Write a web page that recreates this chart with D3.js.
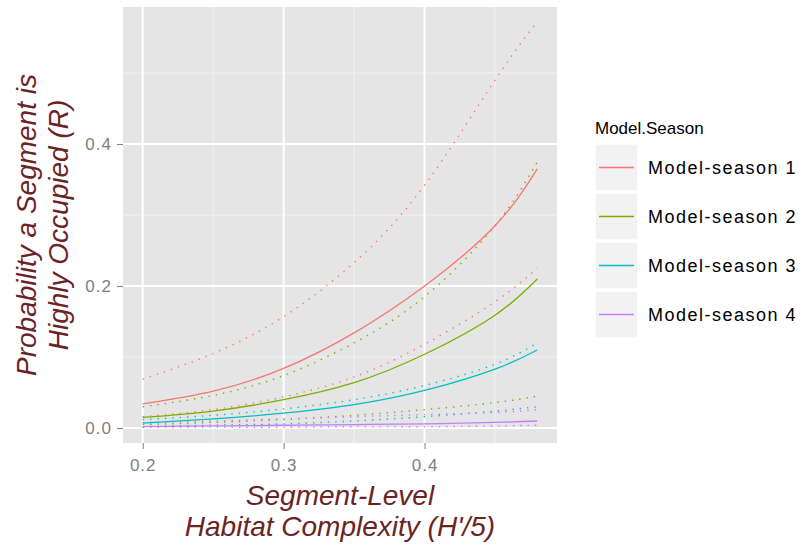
<!DOCTYPE html>
<html>
<head>
<meta charset="utf-8">
<script src="https://cdn.jsdelivr.net/npm/d3@7"></script>
<style>
	body { margin: 0; background: #fff; }
	svg text { font-family: "Liberation Sans", Arial, sans-serif; }
</style>
</head>
<body>
<svg id="chart" width="809" height="554"></svg>
<script>
// values
var xVals = [0.20, 0.25, 0.30, 0.35, 0.40, 0.45, 0.48];

var fit1 = [0.034, 0.052, 0.084, 0.134, 0.200, 0.285, 0.365];
var up1 = [0.069, 0.105, 0.157, 0.233, 0.342, 0.490, 0.572];
var lo1 = [0.016, 0.026, 0.044, 0.072, 0.118, 0.178, 0.225];

var fit2 = [0.015, 0.024, 0.040, 0.064, 0.104, 0.159, 0.210];
var up2 = [0.030, 0.046, 0.074, 0.120, 0.185, 0.285, 0.375];
var lo2 = [0.005, 0.008, 0.012, 0.018, 0.026, 0.036, 0.045];

var fit3 = [0.007, 0.013, 0.021, 0.033, 0.053, 0.083, 0.110];
var up3 = [0.012, 0.018, 0.027, 0.040, 0.060, 0.090, 0.120];
var lo3 = [0.002, 0.004, 0.006, 0.010, 0.016, 0.024, 0.030];

var fit4 = [0.002, 0.003, 0.004, 0.005, 0.006, 0.008, 0.010];
var up4 = [0.008, 0.010, 0.013, 0.016, 0.019, 0.022, 0.026];
var lo4 = [0.001, 0.001, 0.001, 0.002, 0.002, 0.003, 0.004];

var seasons = ["Model-season 1", "Model-season 2", "Model-season 3", "Model-season 4"];
var colors = ["#F8766D", "#7CAE00", "#00BFC4", "#C77CFF"];

var xTicks = [0.2, 0.3, 0.4],
	xMinor = [0.25, 0.35, 0.45],
	yTicks = [0.0, 0.2, 0.4],
	yMinor = [0.1, 0.3, 0.5];

var fits = [fit1, fit2, fit3, fit4],
	uppers = [up1, up2, up3, up4],
	lowers = [lo1, lo2, lo3, lo4];

var svg = d3.select("#chart"),
	panel = {left: 123, right: 557, top: 7, bottom: 443};

var x = d3.scaleLinear()
	.domain([0.186, 0.494])
	.range([panel.left, panel.right]);

var y = d3.scaleLinear()
	.domain([-0.021, 0.593])
	.range([panel.bottom, panel.top]);

/* panel + grid */

svg.append("rect")
	.attr("x", panel.left).attr("y", panel.top)
	.attr("width", panel.right - panel.left)
	.attr("height", panel.bottom - panel.top)
	.attr("fill", "#E5E5E5");

var grid = svg.append("g").attr("class", "grid");

grid.selectAll(".vminor").data(xMinor).enter().append("line")
	.attr("x1", d => x(d)).attr("x2", d => x(d))
	.attr("y1", panel.top).attr("y2", panel.bottom)
	.attr("stroke", "#F2F2F2").attr("stroke-width", 1);

grid.selectAll(".hminor").data(yMinor).enter().append("line")
	.attr("y1", d => y(d)).attr("y2", d => y(d))
	.attr("x1", panel.left).attr("x2", panel.right)
	.attr("stroke", "#F2F2F2").attr("stroke-width", 1);

grid.selectAll(".vmajor").data(xTicks).enter().append("line")
	.attr("x1", d => x(d)).attr("x2", d => x(d))
	.attr("y1", panel.top).attr("y2", panel.bottom)
	.attr("stroke", "#fff").attr("stroke-width", 2);

grid.selectAll(".hmajor").data(yTicks).enter().append("line")
	.attr("y1", d => y(d)).attr("y2", d => y(d))
	.attr("x1", panel.left).attr("x2", panel.right)
	.attr("stroke", "#fff").attr("stroke-width", 2);

/* axes */

var xAxis = svg.append("g")
	.attr("transform", "translate(0," + panel.bottom + ")")
	.call(d3.axisBottom(x).tickValues(xTicks).tickFormat(d3.format(".1f")).tickSize(6).tickPadding(10));

var yAxis = svg.append("g")
	.attr("transform", "translate(" + panel.left + ",0)")
	.call(d3.axisLeft(y).tickValues(yTicks).tickFormat(d3.format(".1f")).tickSize(6).tickPadding(5));

[xAxis, yAxis].forEach(function(a) {
	a.select(".domain").remove();
	a.selectAll(".tick line").attr("stroke", "#7F7F7F");
	a.selectAll(".tick text")
		.attr("fill", "#808080")
		.style("font-size", "17px")
		.style("letter-spacing", "1px");
});

/* lines */

var line = d3.line()
	.x(function(d, i) { return x(xVals[i]); })
	.y(function(d) { return y(d); })
	.curve(d3.curveNatural);

var plot = svg.append("g");

[0, 1, 2, 3].forEach(function(k) {
	[uppers[k], lowers[k]].forEach(function(s) {
		plot.append("path")
			.datum(s)
			.attr("d", line)
			.attr("fill", "none")
			.attr("stroke", colors[k])
			.attr("stroke-width", 1.4)
			.attr("stroke-dasharray", "1.4,6");
	});
});

[0, 1, 2, 3].forEach(function(k) {
	plot.append("path")
		.datum(fits[k])
		.attr("d", line)
		.attr("fill", "none")
		.attr("stroke", colors[k])
		.attr("stroke-width", 1.3);
});

/* axis titles */

var titleColor = "#6B2323";

svg.append("text")
	.attr("x", x(0.34)).attr("y", 505)
	.attr("text-anchor", "middle")
	.attr("fill", titleColor)
	.style("font-size", "28px").style("font-style", "italic")
	.text("Segment-Level");

svg.append("text")
	.attr("x", x(0.34)).attr("y", 536)
	.attr("text-anchor", "middle")
	.attr("fill", titleColor)
	.style("font-size", "28px").style("font-style", "italic")
	.text("Habitat Complexity (H'/5)");

var yMid = (panel.top + panel.bottom) / 2;

svg.append("text")
	.attr("transform", "translate(36," + yMid + ") rotate(-90)")
	.attr("text-anchor", "middle")
	.attr("fill", titleColor)
	.style("font-size", "28px").style("font-style", "italic")
	.text("Probability a Segment is");

svg.append("text")
	.attr("transform", "translate(68," + yMid + ") rotate(-90)")
	.attr("text-anchor", "middle")
	.attr("fill", titleColor)
	.style("font-size", "28px").style("font-style", "italic")
	.text("Highly Occupied (R)");

/* legend */

var legend = svg.append("g").attr("transform", "translate(595,120)");

legend.append("text")
	.attr("x", 0).attr("y", 14)
	.style("font-size", "17px")
	.attr("fill", "#000")
	.text("Model.Season");

var key = legend.selectAll(".key")
	.data(seasons)
	.enter().append("g")
	.attr("class", "key")
	.attr("transform", function(d, i) { return "translate(0," + (24 + i * 49) + ")"; });

key.append("rect")
	.attr("width", 43).attr("height", 47)
	.attr("fill", "#F2F2F2")
	.attr("stroke", "#fff").attr("stroke-width", 1.5);

key.append("line")
	.attr("x1", 4).attr("x2", 39)
	.attr("y1", 23.5).attr("y2", 23.5)
	.attr("stroke", function(d, i) { return colors[i]; })
	.attr("stroke-width", 1.4);

key.append("text")
	.attr("x", 53).attr("y", 30)
	.style("font-size", "18px")
	.style("letter-spacing", "1.5px")
	.attr("fill", "#000")
	.text(function(d) { return d; });
</script>
</body>
</html>
